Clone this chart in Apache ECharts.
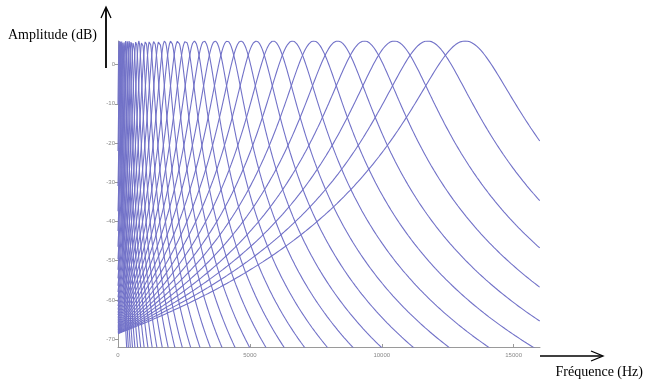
<!DOCTYPE html>
<html><head><meta charset="utf-8">
<script src="https://cdn.jsdelivr.net/npm/echarts@6/dist/echarts.min.js"></script>
<style>html,body{margin:0;padding:0;background:#fff}#c{width:645px;height:380px}</style>
</head><body><div id="c"></div>
<script>
// Centre frequencies of the filters (Hz), read from the peak positions
const centerFreqs = [13162, 11744, 10477, 9344, 8330, 7424, 6614, 5890, 5241, 4662,
  4145, 3682, 3268, 2897, 2566, 2270, 2006, 1769, 1558, 1369, 1200, 1048, 913, 792,
  684, 587, 501, 424, 355, 293, 238, 188, 144, 105, 69, 38];
const xTicks = [0, 5000, 10000, 15000];
const yTicks = [0, -10, -20, -30, -40, -50, -60, -70];
// 4th-order gammatone-like filters: peak gain (dB) and bandwidth factor (x ERB), fitted to the drawn curves
const filterOrder = 4;
const peakGainDb = 6.02;
const bwFactor = 1.07;
const freqMax = 16000;
const freqStep = 10;

function respDb(f, fc) {
  const b = bwFactor * (24.7 + 0.108 * fc);
  const u = (f - fc) / b;
  return Math.max(-100, peakGainDb - 10 * filterOrder * Math.log10(1 + u * u));
}

const series = centerFreqs.map(fc => {
  const data = [];
  for (let f = 0; f <= freqMax; f += freqStep) data.push([f, respDb(f, fc)]);
  return {
    type: 'line', data, showSymbol: false, symbol: 'none', silent: true,
    clip: true, lineStyle: { color: '#7272c8', width: 1.1 }, animation: false
  };
});

const chart = echarts.init(document.getElementById('c'), null, { renderer: 'canvas' });
chart.setOption({
  animation: false,
  grid: { left: 118, right: 105, top: 41, bottom: 33, containLabel: false },
  xAxis: {
    type: 'value', min: 0, max: freqMax,
    axisLine: { show: true, onZero: false, lineStyle: { color: '#9a9a9a', width: 1 } },
    axisTick: { show: true, inside: true, length: 3, customValues: xTicks, lineStyle: { color: '#9a9a9a' } },
    axisLabel: { customValues: xTicks, formatter: v => String(v), color: '#888', fontSize: 6, margin: 5, fontFamily: 'Liberation Sans' },
    splitLine: { show: false }
  },
  yAxis: {
    type: 'value', min: -72, max: 6,
    axisLine: { show: true, onZero: false, lineStyle: { color: '#9a9a9a', width: 1 } },
    axisTick: { show: true, inside: false, length: 3, customValues: yTicks, lineStyle: { color: '#9a9a9a' } },
    axisLabel: { customValues: yTicks, formatter: v => String(v), color: '#888', fontSize: 6, margin: 3, fontFamily: 'Liberation Sans' },
    splitLine: { show: false }
  },
  series,
  graphic: [
    { type: 'line', shape: { x1: 106, y1: 68, x2: 106, y2: 8 }, style: { stroke: '#000', lineWidth: 1.8 } },
    { type: 'polyline', shape: { points: [[101, 18], [106, 7], [111, 18]] }, style: { stroke: '#000', lineWidth: 1.3, fill: null } },
    { type: 'line', shape: { x1: 540, y1: 356, x2: 602, y2: 356 }, style: { stroke: '#000', lineWidth: 1.6 } },
    { type: 'polyline', shape: { points: [[591, 351], [603, 356], [591, 361]] }, style: { stroke: '#000', lineWidth: 1.3, fill: null } },
    { type: 'text', x: 97, y: 35, style: { text: 'Amplitude (dB)', font: '14px "Liberation Serif"', fill: '#000', align: 'right', verticalAlign: 'middle' } },
    { type: 'text', x: 643, y: 372, style: { text: 'Fréquence (Hz)', font: '14px "Liberation Serif"', fill: '#000', align: 'right', verticalAlign: 'middle' } }
  ]
});
</script></body></html>
